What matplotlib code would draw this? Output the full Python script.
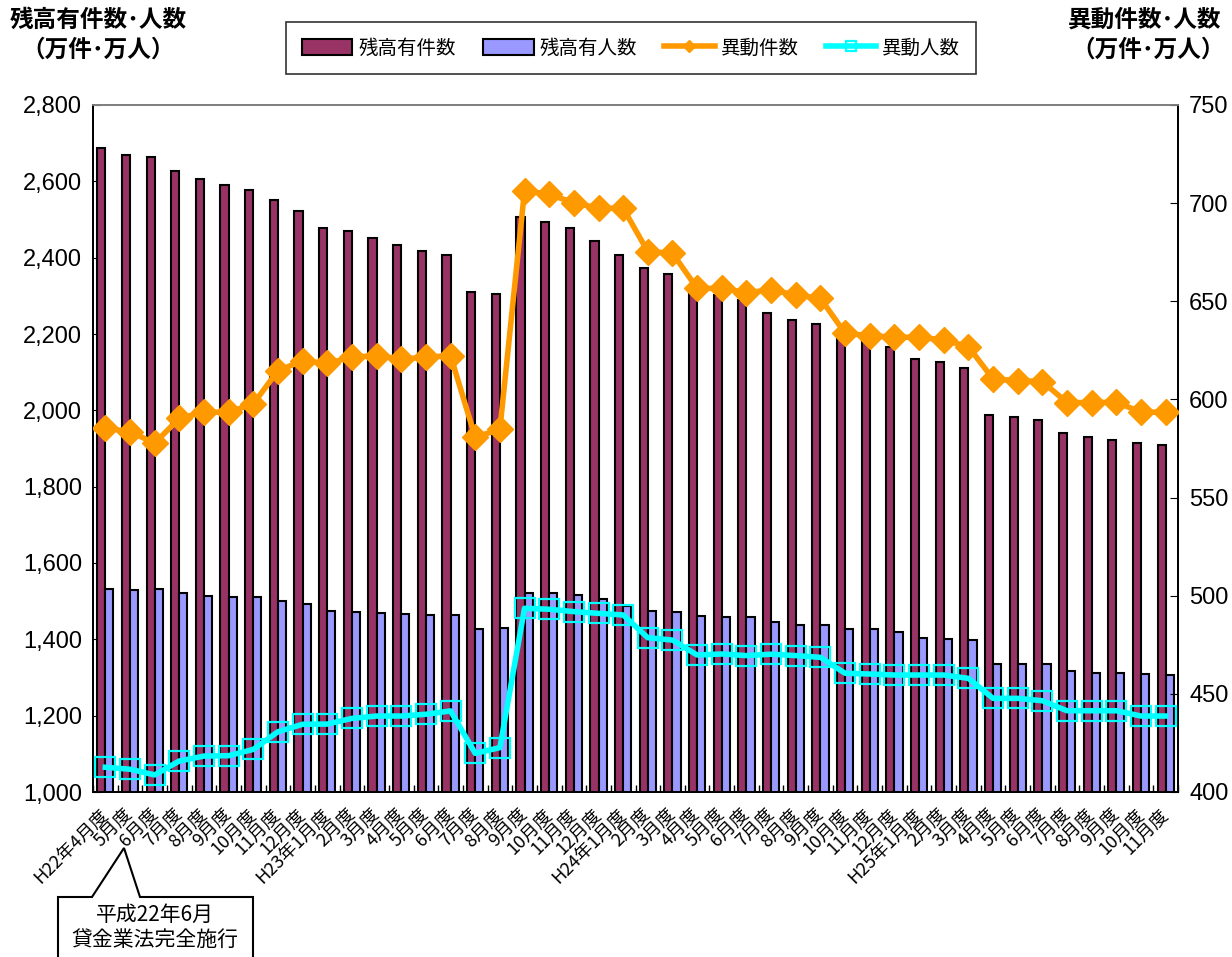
import numpy as np
import matplotlib
matplotlib.use('Agg')
import matplotlib.pyplot as plt
from matplotlib.patches import Polygon

plt.rcParams['font.family'] = ['Liberation Sans', 'Noto Sans CJK JP', 'DejaVu Sans']
JP = ['Noto Sans CJK JP', 'DejaVu Sans']

# 月ラベル
months = ['H22年4月度', '5月度', '6月度', '7月度', '8月度', '9月度', '10月度', '11月度', '12月度',
          'H23年1月度', '2月度', '3月度', '4月度', '5月度', '6月度', '7月度', '8月度', '9月度',
          '10月度', '11月度', '12月度',
          'H24年1月度', '2月度', '3月度', '4月度', '5月度', '6月度', '7月度', '8月度', '9月度',
          '10月度', '11月度', '12月度',
          'H25年1月度', '2月度', '3月度', '4月度', '5月度', '6月度', '7月度', '8月度', '9月度',
          '10月度', '11月度']

# 残高有件数 (万件)
zandaka_kensu = [2688, 2668, 2665, 2628, 2606, 2590, 2577, 2551, 2523, 2478, 2470, 2452,
                 2432, 2417, 2406, 2311, 2305, 2507, 2493, 2478, 2444, 2407, 2373, 2357,
                 2307, 2302, 2290, 2256, 2237, 2226, 2195, 2190, 2165, 2134, 2127, 2112,
                 1987, 1982, 1975, 1941, 1931, 1922, 1914, 1910]
# 残高有人数 (万人)
zandaka_ninzu = [1533, 1529, 1532, 1521, 1514, 1512, 1512, 1501, 1493, 1473, 1472, 1469,
                 1466, 1463, 1464, 1426, 1429, 1521, 1521, 1517, 1505, 1488, 1474, 1471,
                 1461, 1459, 1458, 1445, 1438, 1438, 1427, 1426, 1418, 1404, 1402, 1397,
                 1335, 1335, 1335, 1318, 1313, 1312, 1308, 1307]
# 異動件数 (万件)
idou_kensu = [585.3, 583.6, 577.7, 590.4, 593.5, 593.5, 597.7, 614.7, 619.6, 618.4, 621.5,
              622.3, 620.6, 621.5, 622.3, 580.7, 584.8, 706.4, 704.5, 700.2, 697.4, 697.4,
              675.3, 674.5, 656.6, 656.6, 654.4, 655.8, 653.2, 651.5, 633.7, 632.5, 631.7,
              631.7, 630.3, 626.9, 610.4, 609.6, 609.1, 598.4, 598.4, 598.6, 593.5, 593.5]
# 異動人数 (万人)
idou_ninzu = [412.6, 411.6, 408.7, 415.8, 418.3, 418.5, 421.7, 430.7, 434.5, 434.6, 437.5,
              438.7, 438.7, 439.6, 441.3, 419.7, 422.6, 493.6, 493.1, 491.9, 491.0, 490.2,
              478.6, 477.4, 469.8, 470.3, 469.5, 470.2, 469.5, 468.6, 460.5, 460.1, 459.6,
              459.6, 459.6, 457.9, 447.7, 447.7, 446.5, 441.4, 441.4, 441.4, 438.7, 438.7]

x = np.arange(len(months))
W, H = 1232, 957

fig = plt.figure(figsize=(W / 100, H / 100), dpi=100)
ax = fig.add_axes([93 / W, (H - 792) / H, 1085 / W, 687 / H])

bw = 0.33
ax.bar(x - bw / 2, zandaka_kensu, bw, color='#993366', edgecolor='black', linewidth=1.5,
       label='残高有件数', zorder=2)
ax.bar(x + bw / 2, zandaka_ninzu, bw, color='#9999FF', edgecolor='black', linewidth=1.5,
       label='残高有人数', zorder=2)
ax.set_ylim(1000, 2800)
ax.set_yticks(np.arange(1000, 2801, 200))
ax.set_yticklabels([f'{v:,}' for v in range(1000, 2801, 200)])
ax.set_xlim(-0.5, len(months) - 0.5)

ax2 = ax.twinx()
ax2.plot(x, idou_kensu, color='#FF9900', lw=4, marker='D', markersize=13,
         label='異動件数', zorder=3)
ax2.plot(x, idou_ninzu, color='#00FFFF', lw=4, marker='s', markersize=14,
         markerfacecolor='none', markeredgecolor='#00FFFF', markeredgewidth=1.6,
         label='異動人数', zorder=3)
ax2.set_ylim(400, 750)
ax2.set_yticks(np.arange(400, 751, 50))

# x軸
ax.set_xticks(x)
ax.set_xticklabels(months, rotation=45, ha='right', va='center', rotation_mode='anchor',
                   fontsize=13, family=JP)
ax.tick_params(axis='x', length=0, pad=14)
ax.set_xticks(np.arange(-0.5, len(months), 1), minor=True)
ax.tick_params(axis='x', which='minor', direction='in', length=5, width=1)
ax.tick_params(axis='y', direction='in', length=6, labelsize=17, pad=8)
ax2.tick_params(axis='y', direction='in', length=6, labelsize=17, pad=8)

for a in (ax, ax2):
    for s in a.spines.values():
        s.set_color('black')
        s.set_linewidth(1.3)
    a.spines['top'].set_color('#808080')

# 凡例
h1, l1 = ax.get_legend_handles_labels()
h2, l2 = ax2.get_legend_handles_labels()
leg = fig.legend(h1 + h2, l1 + l2, ncol=4, loc='center', bbox_to_anchor=(631 / W, 1 - 48 / H),
                 prop={'family': JP, 'size': 14}, frameon=True, fancybox=False,
                 handlelength=2.6, handleheight=0.9, columnspacing=1.4, handletextpad=0.3,
                 borderpad=0.8, borderaxespad=0, markerscale=0.5)
leg.get_frame().set_edgecolor('black')
leg.get_frame().set_linewidth(1.2)

# 軸タイトル
fig.text(98 / W, 1 - 20 / H, '残高有件数･人数', ha='center', va='center', fontsize=17,
         family=JP, fontweight='bold')
fig.text(98 / W, 1 - 50 / H, '（万件･万人）', ha='center', va='center', fontsize=17,
         family=JP, fontweight='bold')
fig.text(1145 / W, 1 - 20 / H, '異動件数･人数', ha='center', va='center', fontsize=17,
         family=JP, fontweight='bold')
fig.text(1148 / W, 1 - 50 / H, '（万件･万人）', ha='center', va='center', fontsize=17,
         family=JP, fontweight='bold')

# 吹き出し
pts = [(58, 962), (58, 897), (92, 897), (124, 848), (140, 897), (253, 897), (253, 962)]
callout = Polygon([(px / W, 1 - py / H) for px, py in pts], closed=False, facecolor='white',
                  edgecolor='black', linewidth=1.5, transform=fig.transFigure, clip_on=False)
fig.add_artist(callout)
fig.text(155 / W, 1 - 915 / H, '平成22年6月', ha='center', va='center', fontsize=15, family=JP)
fig.text(155 / W, 1 - 940 / H, '貸金業法完全施行', ha='center', va='center', fontsize=15, family=JP)

fig.savefig('out.png', dpi=100)
